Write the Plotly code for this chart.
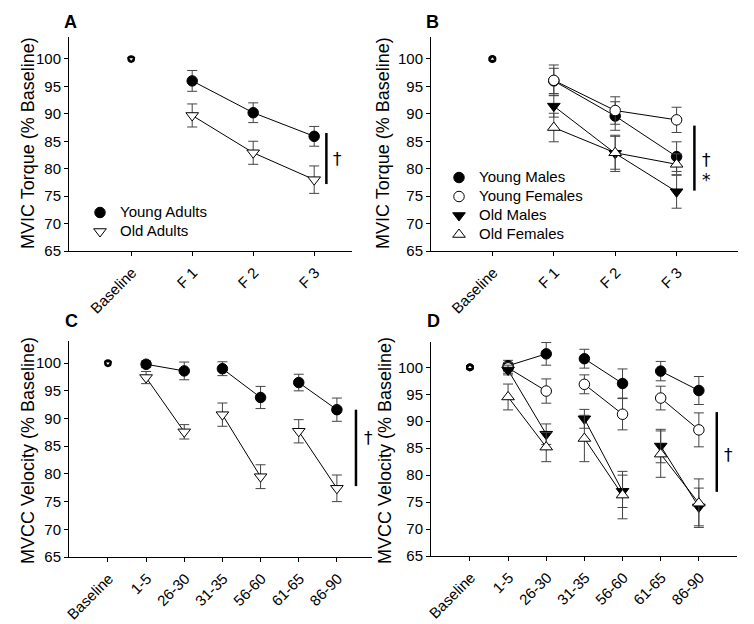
import plotly.graph_objects as go

# ---------------- data ----------------
A_cats = ["Baseline", "F 1", "F 2", "F 3"]
A_young = [100, 96.0, 90.2, 85.9]
A_young_err = [0, 1.9, 1.8, 1.8]
A_old = [100, 89.7, 82.9, 78.0]
A_old_err = [0, 2.1, 2.1, 2.5]

B_cats = ["Baseline", "F 1", "F 2", "F 3"]
B_ym = [100, 96.0, 89.6, 82.2]
B_ym_err = [0, 2.3, 2.6, 2.7]
B_yf = [100, 96.1, 90.6, 88.9]
B_yf_err = [0, 2.8, 2.5, 2.3]
B_om = [100, 91.4, 82.8, 75.8]
B_om_err = [0, 2.0, 3.3, 3.0]
B_of = [100, 87.5, 82.9, 80.8]
B_of_err = [0, 2.6, 3.0, 1.9]

C_cats = ["Baseline", "1-5", "26-30", "31-35", "56-60", "61-65", "86-90"]
C_young = [100, 99.8, 98.6, 99.0, 93.8, 96.5, 91.6]
C_young_err = [0, 0.6, 1.6, 1.25, 2.0, 1.5, 2.1]
C_old = [100, 97.4, 87.6, 90.7, 79.5, 87.7, 77.4]
C_old_err = [0, 1.1, 1.3, 2.1, 2.15, 2.1, 2.4]

D_cats = ["Baseline", "1-5", "26-30", "31-35", "56-60", "61-65", "86-90"]
D_ym = [100, 100.3, 102.5, 101.6, 97.0, 99.3, 95.7]
D_ym_err = [0, 1.0, 2.1, 1.75, 2.7, 1.8, 2.6]
D_yf = [100, 99.9, 95.6, 96.85, 91.3, 94.3, 88.4]
D_yf_err = [0, 1.0, 2.25, 1.75, 2.9, 2.2, 3.15]
D_om = [100, 99.5, 87.6, 90.45, 77.0, 85.4, 74.1]
D_om_err = [0, 0.9, 1.9, 1.75, 3.0, 3.1, 3.5]
D_of = [100, 94.5, 85.2, 86.8, 76.3, 83.9, 74.8]
D_of_err = [0, 2.4, 2.7, 4.3, 4.4, 4.3, 4.5]

# connected segments (index pairs) for the velocity panels
CD_pairs = [(1, 2), (3, 4), (5, 6)]

# significance bars: (x, y_top, y_bottom)
sig_A = (3.2, 86.5, 77.2)
sig_B = (3.29, 87.85, 76.0)
sig_C = (6.5, 91.6, 77.8)
sig_D = (6.47, 91.7, 76.9)

FONT = "Arial, Liberation Sans, Helvetica, sans-serif"
ERR_COLOR = "#444444"

STYLES = {
    "fc": dict(symbol="circle", color="black", size=10.5),
    "oc": dict(symbol="circle", color="white", size=10.5),
    "ftd": dict(symbol="triangle-down", color="black", size=11),
    "otd": dict(symbol="triangle-down", color="white", size=11),
    "otu": dict(symbol="triangle-up", color="white", size=11),
}

fig = go.Figure()


def add_series(xa, ya, vals, errs, style, name, legend, showlegend, segments):
    st = STYLES[style]
    n = len(vals)
    xs = list(range(n))
    # connecting lines
    lx, ly = [], []
    for a, b in segments:
        lx += [xs[a], xs[b], None]
        ly += [vals[a], vals[b], None]
    fig.add_trace(go.Scatter(x=lx, y=ly, mode="lines", xaxis=xa, yaxis=ya,
                             line=dict(color="black", width=1),
                             showlegend=False, hoverinfo="skip"))
    # baseline marker (small)
    fig.add_trace(go.Scatter(x=[xs[0]], y=[vals[0]], mode="markers", xaxis=xa, yaxis=ya,
                             marker=dict(symbol=st["symbol"], color=st["color"], size=6,
                                         line=dict(color="black", width=1.6)),
                             showlegend=False, hoverinfo="skip"))
    # main markers with error bars
    fig.add_trace(go.Scatter(x=xs[1:], y=vals[1:], mode="markers", xaxis=xa, yaxis=ya,
                             name="<span style='font-size:15px'>" + name + "</span>",
                             legend=legend, showlegend=showlegend,
                             marker=dict(symbol=st["symbol"], color=st["color"], size=st["size"],
                                         line=dict(color="black", width=1)),
                             error_y=dict(type="data", array=errs[1:], visible=True,
                                          color=ERR_COLOR, thickness=1, width=5)))


segAB = [(1, 2), (2, 3)]

add_series("x", "y", A_young, A_young_err, "fc", "Young Adults", "legend", True, segAB)
add_series("x", "y", A_old, A_old_err, "otd", "Old Adults", "legend", True, segAB)

add_series("x2", "y2", B_ym, B_ym_err, "fc", "Young Males", "legend2", True, segAB)
add_series("x2", "y2", B_yf, B_yf_err, "oc", "Young Females", "legend2", True, segAB)
add_series("x2", "y2", B_om, B_om_err, "ftd", "Old Males", "legend2", True, segAB)
add_series("x2", "y2", B_of, B_of_err, "otu", "Old Females", "legend2", True, segAB)

add_series("x3", "y3", C_young, C_young_err, "fc", "Young Adults", "legend", False, CD_pairs)
add_series("x3", "y3", C_old, C_old_err, "otd", "Old Adults", "legend", False, CD_pairs)

add_series("x4", "y4", D_ym, D_ym_err, "fc", "Young Males", "legend2", False, CD_pairs)
add_series("x4", "y4", D_yf, D_yf_err, "oc", "Young Females", "legend2", False, CD_pairs)
add_series("x4", "y4", D_om, D_om_err, "ftd", "Old Males", "legend2", False, CD_pairs)
add_series("x4", "y4", D_of, D_of_err, "otu", "Old Females", "legend2", False, CD_pairs)

# the page places the figure 8px in from the top-left corner
OFF = 8
W, H = 754 - OFF, 624 - OFF


def px_x(p):
    return (p - OFF) / W


def px_y(p):
    return 1 - (p - OFF) / H


def xax(domain, rng, cats, anchor):
    return dict(domain=domain, range=rng, anchor=anchor, automargin=False,
                tickmode="array", tickvals=list(range(len(cats))), ticktext=cats,
                tickangle=-45, ticks="outside", ticklen=4, tickwidth=1, tickcolor="black",
                ticklabelshift=1, ticklabelstandoff=2,
                showline=True, linecolor="black", linewidth=1, showgrid=False, zeroline=False,
                tickfont=dict(family=FONT, size=15, color="black"), fixedrange=True)


yticks = [65, 70, 75, 80, 85, 90, 95, 100]


def yax(domain, rng, anchor):
    return dict(domain=domain, range=rng, anchor=anchor, automargin=False,
                tickmode="array", tickvals=yticks, ticktext=[str(v) for v in yticks],
                ticks="outside", ticklen=4, tickwidth=1, tickcolor="black",
                showline=True, linecolor="black", linewidth=1, showgrid=False, zeroline=False,
                tickfont=dict(family=FONT, size=15, color="black"), fixedrange=True)


fig.update_layout(
    template="none",
    width=W, height=H, autosize=False,
    margin=dict(l=0, r=0, t=0, b=0, pad=0),
    paper_bgcolor="white", plot_bgcolor="white",
    font=dict(family=FONT, color="black"),
    xaxis=xax([px_x(69), px_x(352)], [-1.02, 3.62], A_cats, "y"),
    yaxis=yax([px_y(251), px_y(37)], [65, 104], "x"),
    xaxis2=xax([px_x(431), px_x(738)], [-1.0, 4.0], B_cats, "y2"),
    yaxis2=yax([px_y(251), px_y(37)], [65, 104], "x2"),
    xaxis3=xax([px_x(69), px_x(372)], [-1.02, 6.92], C_cats, "y3"),
    yaxis3=yax([px_y(557), px_y(341)], [65, 104], "x3"),
    xaxis4=xax([px_x(431), px_x(737)], [-1.02, 7.0], D_cats, "y4"),
    yaxis4=yax([px_y(556), px_y(342)], [65, 104.7], "x4"),
    legend=dict(x=px_x(80), y=px_y(198), xanchor="left", yanchor="top",
                bgcolor="rgba(0,0,0,0)", borderwidth=0,
                font=dict(family=FONT, size=11, color="black")),
    legend2=dict(x=px_x(439), y=px_y(163), xanchor="left", yanchor="top",
                 bgcolor="rgba(0,0,0,0)", borderwidth=0,
                 font=dict(family=FONT, size=11, color="black")),
)

# significance bars
for (sx, st_, sb), xa, ya in [(sig_A, "x", "y"), (sig_B, "x2", "y2"),
                              (sig_C, "x3", "y3"), (sig_D, "x4", "y4")]:
    fig.add_shape(type="line", xref=xa, yref=ya, x0=sx, x1=sx, y0=sb, y1=st_,
                  line=dict(color="black", width=2.5))

ann = []
# dagger / asterisk marks
for x, y, t, xa, ya in [(3.38, 81.8, "†", "x", "y"),
                        (3.48, 81.6, "†", "x2", "y2"),
                        (3.48, 78.0, "*", "x2", "y2"),
                        (6.82, 86.4, "†", "x3", "y3"),
                        (6.78, 83.7, "†", "x4", "y4")]:
    ann.append(dict(x=x, y=y, xref=xa, yref=ya, text=t, showarrow=False,
                    xanchor="center", yanchor="middle",
                    font=dict(family="DejaVu Sans", size=17, color="black")))

# panel letters
for x, y, t in [(70, 22, "A"), (432, 22, "B"), (71, 321, "C"), (433, 321, "D")]:
    ann.append(dict(x=px_x(x), y=px_y(y), xref="paper", yref="paper", text="<b>" + t + "</b>",
                    xanchor="center", yanchor="middle",
                    showarrow=False, font=dict(family=FONT, size=18, color="black")))

# y-axis titles
for x, y, t in [(28, 143, "MVIC Torque (% Baseline)"), (383, 143, "MVIC Torque (% Baseline)"),
                (28, 451, "MVCC Velocity (% Baseline)"), (385, 451, "MVCC Velocity (% Baseline)")]:
    ann.append(dict(x=px_x(x), y=px_y(y), xref="paper", yref="paper", text=t, textangle=-90,
                    xanchor="center", yanchor="middle",
                    showarrow=False, font=dict(family=FONT, size=18, color="black")))

fig.update_layout(annotations=ann)

fig.write_html("out.html")
